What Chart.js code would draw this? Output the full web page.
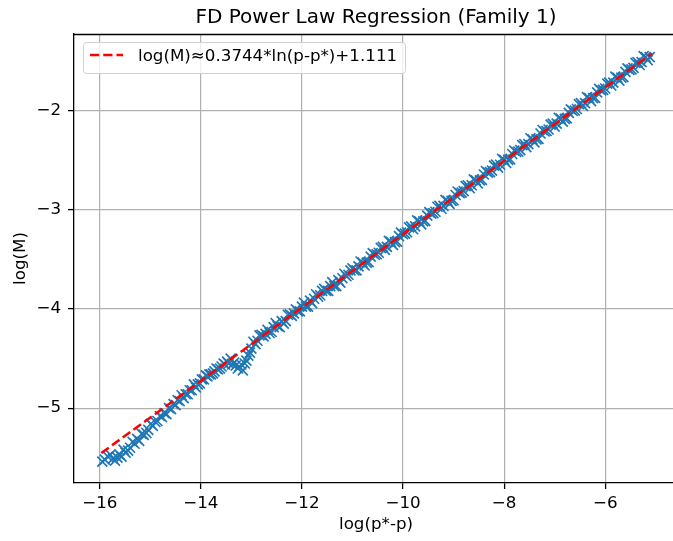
<!DOCTYPE html>
<html><head><meta charset="utf-8">
<script src="https://cdn.jsdelivr.net/npm/chart.js@4.4.0/dist/chart.umd.min.js"></script>
<style>html,body{margin:0;padding:0;overflow:hidden;background:#fff;width:673px;height:541px}
#wrap{position:relative;width:673px;height:541px;overflow:hidden}
#c{display:block}</style>
</head><body><div id="wrap"><canvas id="c" width="690" height="541"></canvas></div>
<script>
const titleText = 'FD Power Law Regression (Family 1)';
const fitLabel = 'log(M)\u22480.3744*ln(p-p*)+1.111';
const xLabel = 'log(p*-p)';
const yLabel = 'log(M)';
const xTicks = [-16, -14, -12, -10, -8, -6];
const yTicks = [-5, -4, -3, -2];

const pointX = [
 -15.95, -15.84, -15.74, -15.65, -15.57, -15.49, -15.40, -15.31, -15.22, -15.13, -15.04, -14.95,
 -14.86, -14.77, -14.68, -14.59, -14.50, -14.42, -14.34, -14.26, -14.18, -14.10, -14.02,
 -15.90, -15.79, -15.70, -15.61, -15.53, -15.44, -15.35, -15.26, -15.17, -15.08, -14.99, -14.90,
 -14.81, -14.72, -14.63, -14.54, -14.46, -14.38, -14.30, -14.22, -14.14, -14.06, -13.98,
 -13.94, -13.87, -13.80, -13.73, -13.66, -13.59, -13.52, -13.45, -13.38, -13.31, -13.24, -13.17, -13.10, -13.03,
 -13.90, -13.83, -13.76, -13.69, -13.62, -13.55, -13.48, -13.41, -13.34, -13.27, -13.20, -13.13, -13.06, -13.00,
 -12.96, -12.88, -12.80, -12.72, -12.64, -12.56, -12.48, -12.40, -12.32, -12.24, -12.16, -12.08,
 -12.00, -11.92, -11.84, -11.76, -11.68, -11.60, -11.52, -11.44, -11.36, -11.28, -11.20, -11.12,
 -11.04, -10.96, -10.88, -10.80, -10.72, -10.64, -10.56, -10.48, -10.40, -10.32, -10.24, -10.16,
 -10.08, -10.00, -9.92, -9.84, -9.76, -9.68, -9.60, -9.52, -9.44, -9.36, -9.28, -9.20,
 -9.12, -9.04, -8.96, -8.88, -8.80, -8.72, -8.64, -8.56, -8.48, -8.40, -8.32, -8.24,
 -8.16, -8.08, -8.00, -7.92, -7.84, -7.76, -7.68, -7.60, -7.52, -7.44, -7.36, -7.28,
 -7.20, -7.12, -7.04, -6.96, -6.88, -6.80, -6.72, -6.64, -6.56, -6.48, -6.40, -6.32,
 -6.24, -6.16, -6.08, -6.00, -5.92, -5.84, -5.76, -5.68, -5.60, -5.52, -5.44, -5.36,
 -5.28, -5.20, -5.12,
 -12.92, -12.84, -12.76, -12.68, -12.60, -12.52, -12.44, -12.36, -12.28, -12.20, -12.12, -12.04,
 -11.96, -11.88, -11.80, -11.72, -11.64, -11.56, -11.48, -11.40, -11.32, -11.24, -11.16, -11.08,
 -11.00, -10.92, -10.84, -10.76, -10.68, -10.60, -10.52, -10.44, -10.36, -10.28, -10.20, -10.12,
 -10.04, -9.96, -9.88, -9.80, -9.72, -9.64, -9.56, -9.48, -9.40, -9.32, -9.24, -9.16,
 -9.08, -9.00, -8.92, -8.84, -8.76, -8.68, -8.60, -8.52, -8.44, -8.36, -8.28, -8.20,
 -8.12, -8.04, -7.96, -7.88, -7.80, -7.72, -7.64, -7.56, -7.48, -7.40, -7.32, -7.24,
 -7.16, -7.08, -7.00, -6.92, -6.84, -6.76, -6.68, -6.60, -6.52, -6.44, -6.36, -6.28,
 -6.20, -6.12, -6.04, -5.96, -5.88, -5.80, -5.72, -5.64, -5.56, -5.48, -5.40, -5.32,
 -5.24, -5.16
];
const pointY = [
 -5.54, -5.49, -5.51, -5.50, -5.49, -5.45, -5.40, -5.36, -5.33, -5.27, -5.22, -5.18,
 -5.13, -5.09, -5.06, -5.01, -4.97, -4.93, -4.90, -4.86, -4.82, -4.79, -4.75,
 -5.52, -5.47, -5.53, -5.47, -5.42, -5.43, -5.34, -5.31, -5.26, -5.25, -5.16, -5.14,
 -5.08, -5.05, -5.00, -4.96, -4.92, -4.87, -4.86, -4.82, -4.76, -4.76, -4.71,
 -4.71, -4.68, -4.66, -4.63, -4.61, -4.58, -4.56, -4.55, -4.56, -4.57, -4.58, -4.62, -4.52, -4.44,
 -4.67, -4.66, -4.65, -4.60, -4.60, -4.55, -4.53, -4.50, -4.54, -4.60, -4.56, -4.55, -4.47, -4.40,
 -4.330, -4.320, -4.261, -4.251, -4.242, -4.182, -4.172, -4.123, -4.123, -4.054, -4.044, -4.024,
 -3.975, -3.975, -3.916, -3.896, -3.876, -3.817, -3.817, -3.768, -3.768, -3.708, -3.689, -3.669,
 -3.610, -3.610, -3.570, -3.531, -3.531, -3.471, -3.452, -3.432, -3.373, -3.373, -3.323, -3.324,
 -3.264, -3.245, -3.225, -3.165, -3.166, -3.116, -3.116, -3.057, -3.037, -3.018, -2.958, -2.958,
 -2.909, -2.909, -2.849, -2.830, -2.810, -2.751, -2.751, -2.701, -2.702, -2.642, -2.623, -2.603,
 -2.543, -2.544, -2.494, -2.494, -2.435, -2.415, -2.396, -2.336, -2.336, -2.287, -2.287, -2.228,
 -2.208, -2.188, -2.129, -2.129, -2.079, -2.080, -2.020, -2.001, -1.981, -1.921, -1.922, -1.872,
 -1.872, -1.813, -1.793, -1.774, -1.714, -1.714, -1.665, -1.665, -1.606, -1.586, -1.566, -1.507,
 -1.507, -1.457, -1.458,
 -4.355, -4.266, -4.276, -4.211, -4.232, -4.142, -4.183, -4.148, -4.058, -4.069, -4.004, -4.024,
 -3.935, -3.975, -3.941, -3.851, -3.861, -3.797, -3.817, -3.728, -3.768, -3.733, -3.644, -3.654,
 -3.589, -3.610, -3.520, -3.561, -3.526, -3.436, -3.447, -3.382, -3.403, -3.313, -3.353, -3.319,
 -3.229, -3.239, -3.175, -3.195, -3.106, -3.146, -3.111, -3.022, -3.032, -2.968, -2.988, -2.898,
 -2.939, -2.904, -2.814, -2.825, -2.760, -2.781, -2.691, -2.731, -2.697, -2.607, -2.618, -2.553,
 -2.573, -2.484, -2.524, -2.489, -2.400, -2.410, -2.346, -2.366, -2.276, -2.317, -2.282, -2.193,
 -2.203, -2.138, -2.159, -2.069, -2.109, -2.075, -1.985, -1.996, -1.931, -1.951, -1.862, -1.902,
 -1.868, -1.778, -1.788, -1.724, -1.744, -1.654, -1.695, -1.660, -1.571, -1.581, -1.516, -1.537,
 -1.447, -1.488
];
const fitX = [-15.97, -5.075];
const fitY = [-5.454, -1.421];

Chart.defaults.font.family = '"DejaVu Sans", sans-serif';
Chart.defaults.font.size = 16.7;
Chart.defaults.color = '#000';

const fmt = v => (v < 0 ? '\u2212' + Math.abs(v) : String(v));

const mplDecor = {
  id: 'mplDecor',
  afterDatasetsDraw(chart) {
    const ctx = chart.ctx, a = chart.chartArea;
    ctx.save();
    ctx.beginPath();
    ctx.strokeStyle = '#000';
    ctx.lineWidth = 1.3;
    ctx.moveTo(a.left, Math.round(a.top) + 0.5);
    ctx.lineTo(a.right, Math.round(a.top) + 0.5);
    ctx.stroke();
    // legend box
    const x0 = a.left + 9.5, y0 = a.top + 8.5, w = 322, h = 31;
    ctx.beginPath();
    ctx.roundRect(x0, y0, w, h, 3);
    ctx.fillStyle = 'rgba(255,255,255,0.8)';
    ctx.fill();
    ctx.strokeStyle = '#d0d0d0';
    ctx.lineWidth = 1;
    ctx.stroke();
    ctx.beginPath();
    ctx.setLineDash([9.25, 4]);
    ctx.strokeStyle = '#ff0000';
    ctx.lineWidth = 2.5;
    ctx.moveTo(x0 + 6.5, y0 + 12.5);
    ctx.lineTo(x0 + 39.5, y0 + 12.5);
    ctx.stroke();
    ctx.setLineDash([]);
    ctx.fillStyle = '#000';
    ctx.font = '16.7px "DejaVu Sans"';
    ctx.textBaseline = 'middle';
    ctx.textAlign = 'left';
    ctx.fillText(chart.data.datasets[0].label, x0 + 54.5, y0 + 14);
    ctx.restore();
  }
};

new Chart(document.getElementById('c'), {
  type: 'scatter',
  data: {
    datasets: [
      {
        type: 'line', label: fitLabel,
        data: fitX.map((x, i) => ({x: x, y: fitY[i]})),
        borderColor: '#ff0000', borderWidth: 2.5, borderDash: [9.25, 4],
        pointRadius: 0, fill: false, order: 0
      },
      {
        type: 'scatter', label: 'data',
        data: pointX.map((x, i) => ({x: x, y: pointY[i]})),
        pointStyle: 'crossRot', pointRadius: 7.07, pointBorderWidth: 1.67,
        borderColor: '#1f77b4', backgroundColor: '#1f77b4', order: 1
      }
    ]
  },
  options: {
    responsive: false, animation: false, events: [], devicePixelRatio: 1,
    layout: {padding: {left: 0, right: 12, top: 0, bottom: 0}},
    plugins: {
      legend: {display: false}, tooltip: {enabled: false},
      title: {display: true, text: titleText, fullSize: false, color: '#000',
        font: {size: 20, weight: 'normal'}, padding: {top: 6, bottom: 4}}
    },
    scales: {
      x: {
        type: 'linear', position: 'bottom', min: -16.51, max: -4.56,
        afterBuildTicks: s => { s.ticks = xTicks.map(v => ({value: v})); },
        afterFit: s => { s.height = 58; },
        ticks: {callback: v => fmt(v), color: '#000', padding: 5, maxRotation: 0, autoSkip: false},
        grid: {color: '#b0b0b0', lineWidth: 1.2, tickColor: '#000', tickLength: 6, tickWidth: 1.3},
        border: {color: '#000', width: 1.3},
        title: {display: true, text: xLabel, color: '#000', padding: {top: 0, bottom: 6}}
      },
      y: {
        type: 'linear', position: 'left', min: -5.756, max: -1.224,
        afterBuildTicks: s => { s.ticks = yTicks.map(v => ({value: v})); },
        afterFit: s => { s.width = 74; },
        ticks: {callback: v => fmt(v), color: '#000', padding: 7, autoSkip: false},
        grid: {color: '#b0b0b0', lineWidth: 1.2, tickColor: '#000', tickLength: 6, tickWidth: 1.3},
        border: {color: '#000', width: 1.3},
        title: {display: true, text: yLabel, color: '#000', padding: {top: 11, bottom: 0}}
      }
    }
  },
  plugins: [mplDecor]
});
</script>
</body></html>
